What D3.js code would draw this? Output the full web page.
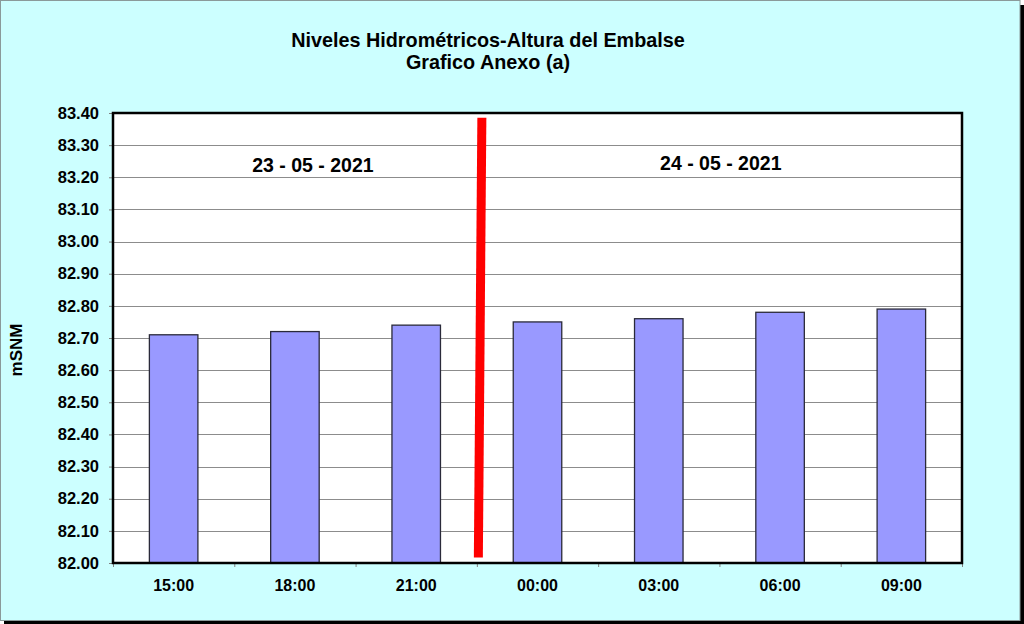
<!DOCTYPE html>
<html>
<head>
<meta charset="utf-8">
<script src="https://cdn.jsdelivr.net/npm/d3@7"></script>
<style>
  html, body { margin: 0; padding: 0; background: #ffffff; }
  svg { display: block; font-family: "Liberation Sans", Arial, sans-serif; }
</style>
</head>
<body>
<svg id="chart" width="1024" height="624"></svg>
<script>
// ---- data ----
const categories = ["15:00", "18:00", "21:00", "00:00", "03:00", "06:00", "09:00"];
const levels = [82.71, 82.72, 82.74, 82.75, 82.76, 82.78, 82.79];
const yTicks = [82.00, 82.10, 82.20, 82.30, 82.40, 82.50, 82.60, 82.70, 82.80, 82.90, 83.00, 83.10, 83.20, 83.30, 83.40];
const dateLabels = ["23 - 05 - 2021", "24 - 05 - 2021"];
const dateLabelAnchors = ["18:00", "03:00"];
const titleLines = ["Niveles Hidrométricos-Altura del Embalse", "Grafico Anexo (a)"];
const yAxisTitle = "mSNM";
const yDomain = [82.0, 83.4];

// ---- layout ----
const W = 1024, H = 624;
const plot = { left: 113, top: 113, right: 962, bottom: 563 };
const svg = d3.select("#chart");

// frame with shadow
svg.append("rect").attr("x", 4).attr("y", 5).attr("width", 1020).attr("height", 619).attr("fill", "#000");
svg.append("rect").attr("x", 0.5).attr("y", 0.5).attr("width", 1019.5).attr("height", 620)
  .attr("fill", "#CCFFFF").attr("stroke", "#8a9a9a").attr("stroke-width", 1);

const x = d3.scaleBand().domain(categories).range([plot.left, plot.right]).padding(0);
const y = d3.scaleLinear().domain(yDomain).range([plot.bottom, plot.top]);

// plot area
svg.append("rect").attr("x", plot.left).attr("y", plot.top)
  .attr("width", plot.right - plot.left).attr("height", plot.bottom - plot.top)
  .attr("fill", "#ffffff");

// gridlines
svg.append("g").selectAll("line").data(yTicks.slice(1, -1)).join("line")
  .attr("x1", plot.left).attr("x2", plot.right)
  .attr("y1", d => Math.round(y(d)) + 0.5).attr("y2", d => Math.round(y(d)) + 0.5)
  .attr("stroke", "#8c8c8c").attr("stroke-width", 1);

// bars
const barW = x.bandwidth() * 0.4;
svg.append("g").selectAll("rect").data(levels).join("rect")
  .attr("x", (d, i) => x(categories[i]) + (x.bandwidth() - barW) / 2)
  .attr("y", d => y(d))
  .attr("width", barW)
  .attr("height", d => y(yDomain[0]) - y(d))
  .attr("fill", "#9999FF").attr("stroke", "#2a2a3a").attr("stroke-width", 1.3);

// y axis
const yAxis = d3.axisLeft(y).tickValues(yTicks).tickFormat(d3.format(".2f")).tickSize(4).tickPadding(10);
const gy = svg.append("g").attr("transform", `translate(${plot.left},0)`).call(yAxis);
gy.select(".domain").remove();
gy.selectAll(".tick line").attr("stroke", "#808080");
gy.selectAll(".tick text").attr("font-size", 16.5).attr("font-weight", "bold").attr("fill", "#000")
  .attr("font-family", "Liberation Sans, Arial, sans-serif");

// x axis
const xAxis = d3.axisBottom(x).tickSize(0).tickPadding(17);
const gx = svg.append("g").attr("transform", `translate(0,${plot.bottom})`).call(xAxis);
gx.select(".domain").remove();
gx.selectAll(".tick text").attr("font-size", 16).attr("font-weight", "bold").attr("fill", "#000")
  .attr("font-family", "Liberation Sans, Arial, sans-serif");
// category separators ticks
svg.append("g").selectAll("line").data(categories.concat(["end"])).join("line")
  .attr("x1", (d, i) => i < categories.length ? x(d) + 0.5 : plot.right + 0.5)
  .attr("x2", (d, i) => i < categories.length ? x(d) + 0.5 : plot.right + 0.5)
  .attr("y1", plot.bottom).attr("y2", plot.bottom + 4)
  .attr("stroke", "#808080");

// plot border (black, thick)
svg.append("rect").attr("x", plot.left).attr("y", plot.top)
  .attr("width", plot.right - plot.left).attr("height", plot.bottom - plot.top)
  .attr("fill", "none").attr("stroke", "#000").attr("stroke-width", 2.5);

// red day-separator line (between 21:00 and 00:00)
const sepX = x(categories[3]);
svg.append("line")
  .attr("x1", sepX + 5).attr("y1", y(83.385))
  .attr("x2", sepX + 1.5).attr("y2", y(82.017))
  .attr("stroke", "#FF0000").attr("stroke-width", 9);

// date annotations
const dateOffsets = [{ dx: 18, dy: -2 }, { dx: 62, dy: -4 }];
svg.append("g").selectAll("text").data(dateLabels).join("text")
  .attr("x", (d, i) => x(dateLabelAnchors[i]) + x.bandwidth() / 2 + dateOffsets[i].dx)
  .attr("y", (d, i) => y(83.21) + dateOffsets[i].dy)
  .attr("text-anchor", "middle")
  .attr("font-size", 19.5).attr("font-weight", "bold").attr("fill", "#000")
  .text(d => d);

// title
svg.append("g").selectAll("text").data(titleLines).join("text")
  .attr("x", 488).attr("y", (d, i) => 47 + i * 21.5)
  .attr("text-anchor", "middle")
  .attr("font-size", 19.8).attr("font-weight", "bold").attr("fill", "#000")
  .text(d => d);

// y axis title
svg.append("text")
  .attr("transform", `translate(22,${(plot.top + plot.bottom) / 2 + 12}) rotate(-90)`)
  .attr("text-anchor", "middle")
  .attr("font-size", 17).attr("font-weight", "bold").attr("fill", "#000")
  .text(yAxisTitle);
</script>
</body>
</html>
